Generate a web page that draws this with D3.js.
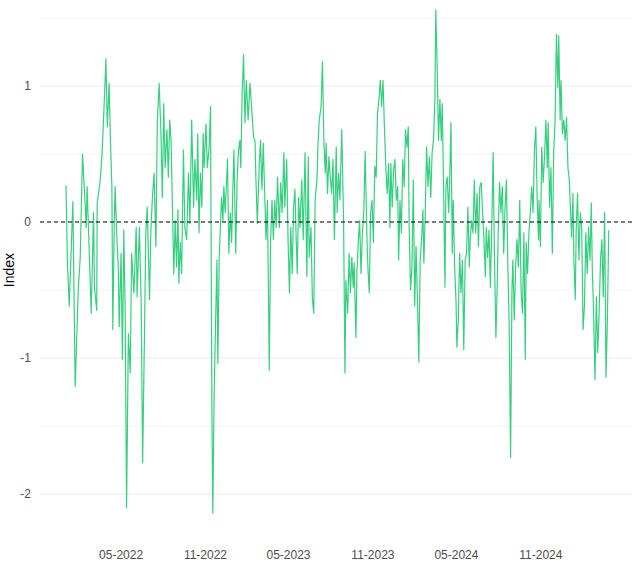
<!DOCTYPE html>
<html><head><meta charset="utf-8">
<script src="https://cdn.jsdelivr.net/npm/d3@7"></script>
<style>body{margin:0;background:#fff}</style></head>
<body><svg id="c" width="641" height="566"></svg>
<script>
const startDate = "2022-01-01";
const endDate = "2025-03-28";
const dayOffsets = [0,3,7,15,20,27,31,36,39,44,46,51,55,60,62,67,68,74,78,83,87,90,94,97,100,102,105,107,111,114,116,120,123,126,129,132,136,140,143,148,153,155,160,164,167,170,174,177,182,185,188,192,196,199,203,207,210,213,216,220,223,226,229,232,235,238,241,244,246,249,252,256,259,263,267,270,274,278,281,285,287,290,293,296,299,301,305,308,312,315,318,320,323,326,329,331,334,336,339,342,344,347,350,352,355,358,361,363,366,370,373,376,379,381,384,387,390,393,397,401,405,409,412,414,417,421,424,427,430,433,436,439,442,443,446,449,452,455,458,461,465,468,471,475,477,481,484,487,490,493,496,499,501,504,507,510,514,517,521,525,528,530,534,537,540,543,547,549,552,556,559,562,565,567,570,573,576,579,582,585,589,591,594,597,601,605,608,610,614,617,620,623,626,628,632,634,637,640,643,646,649,652,656,658,661,664,667,670,673,676,679,682,685,688,691,694,697,700,703,706,708,711,714,717,720,723,725,728,731,734,737,740,743,746,748,751,754,757,760,763,766,769,772,775,778,780,783,786,789,792,795,798,801,804,806,809,812,815,818,820,823,826,828,831,834,836,839,842,844,847,850,852,855,858,861,864,867,870,873,876,879,881,884,887,890,893,896,899,902,905,908,911,914,916,919,922,925,928,931,934,937,940,942,945,948,951,954,957,960,963,966,969,972,974,977,980,983,986,989,992,995,998,1001,1003,1006,1009,1012,1015,1018,1021,1024,1027,1030,1031,1034,1037,1040,1043,1046,1049,1051,1054,1057,1060,1063,1066,1069,1072,1074,1077,1079,1082,1085,1088,1091,1094,1097,1099,1102,1105,1107,1110,1112,1115,1118,1121,1124,1127,1130,1133,1136,1139,1142,1145,1147,1150,1153,1156,1159,1162,1165,1168,1171,1174,1177,1180,1183];
const indexValues = [0.27,-0.28,-0.62,0.15,-1.21,-0.48,-0.26,0.5,0.31,-0.04,0.26,-0.26,-0.67,0.07,-0.48,-0.65,0.14,0.29,0.46,0.85,1.2,0.7,1.02,0.58,0.26,-0.79,-0.06,0.26,-0.13,-0.33,-0.77,-0.23,-1.01,-0.06,-0.67,-2.1,-0.82,-1.11,-0.23,-0.52,-0.04,-0.55,-0.04,-0.62,-1.77,-1.07,-0.08,0.11,-0.57,-0.06,0.16,0.36,-0.18,0.73,1.02,0.65,0.18,0.87,0.4,0.68,0.33,0.75,0.6,0.11,-0.38,0.01,-0.33,0.09,-0.45,-0.15,-0.38,0.53,-0.04,-0.13,0.36,-0.01,0.75,0.11,0.46,0.16,0.65,-0.08,0.36,0.11,0.65,0.4,0.72,0.4,0.55,0.85,-1.36,-2.14,-1.24,-0.74,-0.28,-1.04,-0.26,-0.08,0.18,0.01,0.26,0.07,0.31,0.46,-0.23,0.07,-0.15,0.16,0.53,-0.23,0.31,0.53,0.6,0.4,0.95,1.23,0.73,1.04,0.75,1.02,0.82,0.62,0.6,0.31,-0.01,0.4,0.6,0.24,0.58,0.21,-0.13,0.16,-0.74,-1.09,-0.13,0.16,-0.13,0.16,-0.04,0.33,-0.04,0.29,0.07,0.51,0.11,0.46,-0.13,-0.52,-0.04,-0.38,0.11,0.24,-0.04,-0.38,0.18,-0.04,0.31,-0.13,0.51,-0.4,0.48,-0.26,-0.04,-0.57,-0.67,0.16,0.31,0.55,0.75,0.85,1.18,0.6,0.36,0.58,0.21,0.48,0.33,0.21,0.46,-0.13,0.55,0.07,0.36,0.16,0.68,0.01,-1.11,-0.43,-0.67,-0.23,-0.52,-0.26,-0.48,-0.3,-0.85,-0.38,-0.15,0.01,-0.38,-0.08,0.07,0.52,-0.13,-0.33,-0.52,0.07,0.16,-0.15,0.41,0.33,0.8,0.9,1.04,0.85,1.04,0.7,0.41,0.21,0.43,-0.04,0.43,0.11,0.38,0.46,0.16,0.26,-0.28,0.16,-0.08,0.46,0.26,0.68,0.55,0.7,-0.04,-0.5,-0.33,0.31,-0.62,-0.18,-0.57,-1.03,-0.28,-0.13,0.09,-0.3,0.07,0.55,0.26,0.48,0.18,0.51,0.6,0.9,1.56,1.14,0.6,0.9,0.6,0.87,0.24,-0.48,0.26,0.33,0.07,0.26,0.73,-0.23,0.16,-0.33,-0.57,-0.92,-0.72,-0.23,-0.52,-0.28,-0.94,-0.28,-0.23,0.11,-0.33,-0.13,0.01,-0.08,0.31,-0.08,0.21,-0.18,0.26,0.29,0.07,-0.13,-0.4,-0.04,-0.26,-0.06,-0.48,-0.04,0.51,-0.28,-0.85,-0.45,-0.08,0.29,0.07,0.26,-0.23,0.11,0.31,-0.3,-0.77,-1.73,-0.5,-0.28,-0.72,-0.33,-0.13,-0.33,0.16,-0.52,-0.67,-0.08,-1.01,-0.15,-0.38,-0.08,0.07,0.26,0.07,0.53,0.7,0.16,-0.13,0.16,-0.18,0.55,0.29,0.48,0.75,0.4,0.73,0.11,0.4,-0.23,0.51,0.75,1.38,0.99,1.37,0.75,1.04,0.65,0.75,0.6,0.77,0.4,0.31,0.14,-0.11,0.21,-0.28,-0.57,-0.06,0.21,-0.28,0.07,-0.04,-0.79,-0.62,-0.08,-0.38,-0.04,-0.28,0.14,-0.33,-0.67,-1.16,-0.55,-0.96,-0.67,-0.28,-0.13,-0.55,0.07,-1.14,-0.72,-0.06];
const xTickDates = ["2022-05-01","2022-11-01","2023-05-01","2023-11-01","2024-05-01","2024-11-01"];
const yTicks = [-2,-1,0,1];
const yGrid = [-2,-1.5,-1,-0.5,0,0.5,1,1.5];

const parse = d3.utcParse("%Y-%m-%d");
const t0 = parse(startDate);
const data = dayOffsets.map((d,i)=>({date:d3.utcDay.offset(t0,d), v:indexValues[i]}));
const svg = d3.select("#c");
const L=40, R=632;
const x = d3.scaleUtc().domain([t0, parse(endDate)]).range([66, 608.3]);
const y = d3.scaleLinear().domain([-2.2,1.6]).range([521.2,4.4]);

svg.append("g").selectAll("line").data(yGrid).join("line")
  .attr("x1",L).attr("x2",R).attr("y1",d=>y(d)).attr("y2",d=>y(d))
  .attr("stroke","#ebebeb").attr("stroke-width",d=>Number.isInteger(d)?1:0.6);

svg.append("g").selectAll("text").data(yTicks).join("text")
  .attr("x",31).attr("y",d=>y(d)).attr("dy","0.35em").attr("text-anchor","end")
  .attr("font-family","Liberation Sans, Arial, sans-serif").attr("font-size",12).attr("fill","#4d4d4d")
  .text(d=>d);

const fmt = d3.utcFormat("%m-%Y");
svg.append("g").selectAll("text").data(xTickDates.map(parse)).join("text")
  .attr("x",d=>x(d)).attr("y",559).attr("text-anchor","middle")
  .attr("font-family","Liberation Sans, Arial, sans-serif").attr("font-size",12).attr("fill","#4d4d4d")
  .text(d=>fmt(d));

svg.append("text").attr("transform","translate(14,270) rotate(-90)").attr("text-anchor","middle")
  .attr("font-family","Liberation Sans, Arial, sans-serif").attr("font-size",14).attr("fill","#000")
  .text("Index");

svg.append("path").datum(data)
  .attr("d", d3.line().x(d=>x(d.date)).y(d=>y(d.v)))
  .attr("fill","none").attr("stroke","#35d07f").attr("stroke-width",1.2).attr("stroke-linejoin","round");

svg.append("line").attr("x1",L).attr("x2",R).attr("y1",y(0)).attr("y2",y(0))
  .attr("stroke","#000").attr("stroke-width",1.2).attr("stroke-dasharray","4,3");
</script></body></html>
